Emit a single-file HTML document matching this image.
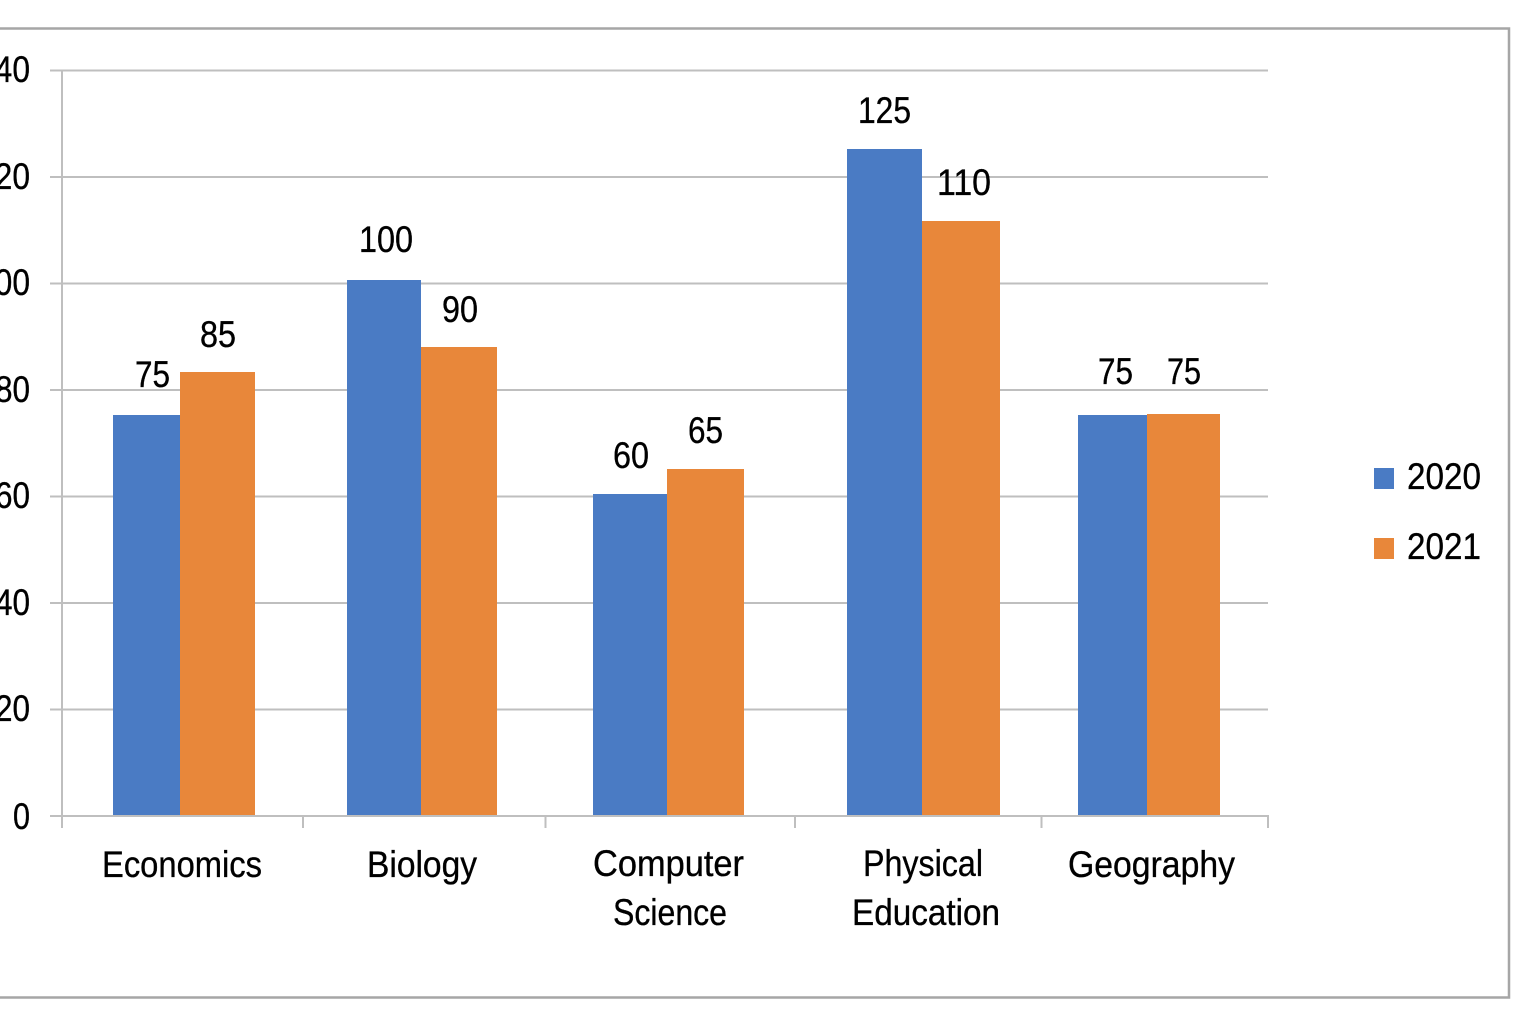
<!DOCTYPE html>
<html>
<head>
<meta charset="utf-8">
<style>
  html, body { margin: 0; padding: 0; background: #ffffff; }
  svg { display: block; }
  text { font-family: "Liberation Sans", sans-serif; fill: #000; stroke: #000; stroke-width: 0.35; }
</style>
</head>
<body>
<svg width="1536" height="1024" viewBox="0 0 1536 1024" xmlns="http://www.w3.org/2000/svg">
  <rect x="0" y="0" width="1536" height="1024" fill="#ffffff"/>
  <!-- outer border -->
  <polyline points="-5,28.5 1509,28.5 1509,997.5 -5,997.5" fill="none" stroke="#a6a6a6" stroke-width="2.5"/>

  <!-- gridlines -->
  <g stroke="#bfbfbf" stroke-width="2">
    <line x1="50" y1="70.5" x2="1268" y2="70.5"/>
    <line x1="50" y1="177" x2="1268" y2="177"/>
    <line x1="50" y1="283.5" x2="1268" y2="283.5"/>
    <line x1="50" y1="390" x2="1268" y2="390"/>
    <line x1="50" y1="496.5" x2="1268" y2="496.5"/>
    <line x1="50" y1="603" x2="1268" y2="603"/>
    <line x1="50" y1="709.5" x2="1268" y2="709.5"/>
  </g>

  <!-- bars -->
  <g fill="#4a7bc4">
    <rect x="113" y="415" width="67" height="401"/>
    <rect x="347" y="280" width="74" height="536"/>
    <rect x="593" y="494" width="74" height="322"/>
    <rect x="847" y="149" width="75" height="667"/>
    <rect x="1078" y="415" width="69" height="401"/>
  </g>
  <g fill="#e8873a">
    <rect x="180" y="372" width="75" height="444"/>
    <rect x="421" y="347" width="76" height="469"/>
    <rect x="667" y="469" width="77" height="347"/>
    <rect x="922" y="221" width="78" height="595"/>
    <rect x="1147" y="414" width="73" height="402"/>
  </g>

  <!-- axes -->
  <g stroke="#bfbfbf" stroke-width="2">
    <line x1="62" y1="70" x2="62" y2="828"/>
    <line x1="50" y1="816" x2="1269" y2="816"/>
    <line x1="303" y1="816" x2="303" y2="828"/>
    <line x1="545.5" y1="816" x2="545.5" y2="828"/>
    <line x1="795" y1="816" x2="795" y2="828"/>
    <line x1="1041.5" y1="816" x2="1041.5" y2="828"/>
    <line x1="1268" y1="816" x2="1268" y2="828"/>
  </g>

  <!-- y axis labels (cropped at left) -->
  <g font-size="37" text-anchor="end">
    <text x="30" y="82" textLength="53" lengthAdjust="spacingAndGlyphs">140</text>
    <text x="30" y="189" textLength="53" lengthAdjust="spacingAndGlyphs">120</text>
    <text x="30" y="295" textLength="53" lengthAdjust="spacingAndGlyphs">100</text>
    <text x="30" y="402" textLength="35" lengthAdjust="spacingAndGlyphs">80</text>
    <text x="30" y="508" textLength="35" lengthAdjust="spacingAndGlyphs">60</text>
    <text x="30" y="615" textLength="35" lengthAdjust="spacingAndGlyphs">40</text>
    <text x="30" y="721" textLength="35" lengthAdjust="spacingAndGlyphs">20</text>
    <text x="30" y="829" textLength="17" lengthAdjust="spacingAndGlyphs">0</text>
  </g>

  <!-- data labels -->
  <g font-size="37">
    <text x="135" y="387" textLength="35" lengthAdjust="spacingAndGlyphs">75</text>
    <text x="200" y="347" textLength="36" lengthAdjust="spacingAndGlyphs">85</text>
    <text x="359" y="252" textLength="54" lengthAdjust="spacingAndGlyphs">100</text>
    <text x="442" y="322" textLength="36" lengthAdjust="spacingAndGlyphs">90</text>
    <text x="613" y="468" textLength="36" lengthAdjust="spacingAndGlyphs">60</text>
    <text x="688" y="443" textLength="35" lengthAdjust="spacingAndGlyphs">65</text>
    <text x="858" y="123" textLength="53" lengthAdjust="spacingAndGlyphs">125</text>
    <text x="937" y="195" textLength="54" lengthAdjust="spacingAndGlyphs">110</text>
    <text x="1098" y="384" textLength="35" lengthAdjust="spacingAndGlyphs">75</text>
    <text x="1167" y="384" textLength="34" lengthAdjust="spacingAndGlyphs">75</text>
  </g>

  <!-- category labels -->
  <g font-size="37">
    <text x="102" y="877" textLength="160" lengthAdjust="spacingAndGlyphs">Economics</text>
    <text x="367" y="877" textLength="110" lengthAdjust="spacingAndGlyphs">Biology</text>
    <text x="593" y="876" textLength="151" lengthAdjust="spacingAndGlyphs">Computer</text>
    <text x="613" y="925" textLength="114" lengthAdjust="spacingAndGlyphs">Science</text>
    <text x="863" y="876" textLength="120" lengthAdjust="spacingAndGlyphs">Physical</text>
    <text x="852" y="925" textLength="148" lengthAdjust="spacingAndGlyphs">Education</text>
    <text x="1068" y="877" textLength="167" lengthAdjust="spacingAndGlyphs">Geography</text>
  </g>

  <!-- legend -->
  <rect x="1374" y="468" width="20" height="21" fill="#4a7bc4"/>
  <rect x="1374" y="538" width="20" height="21" fill="#e8873a"/>
  <g font-size="37">
    <text x="1407" y="489" textLength="74" lengthAdjust="spacingAndGlyphs">2020</text>
    <text x="1407" y="559" textLength="74" lengthAdjust="spacingAndGlyphs">2021</text>
  </g>
</svg>
</body>
</html>
